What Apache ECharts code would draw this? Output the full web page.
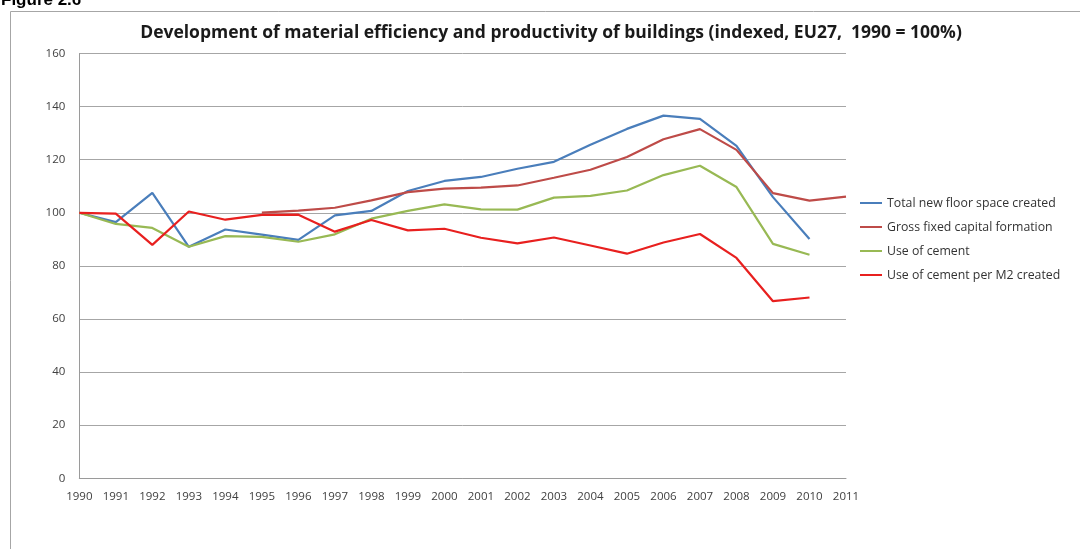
<!DOCTYPE html>
<html>
<head>
<meta charset="utf-8">
<script src="https://cdn.jsdelivr.net/npm/echarts@6/dist/echarts.min.js"></script>
<style>
  html, body { margin: 0; padding: 0; background: #fff; }
  #chart { width: 1080px; height: 549px; }
</style>
</head>
<body>
<div id="chart"></div>
<script>
// 年份 (x 轴)
const years = ['1990', '1991', '1992', '1993', '1994', '1995', '1996', '1997', '1998', '1999', '2000',
  '2001', '2002', '2003', '2004', '2005', '2006', '2007', '2008', '2009', '2010', '2011'];

// 各系列数值 (1990 = 100)
const floorSpace = [100, 96.5, 107.5, 87.2, 93.7, 91.8, 89.8, 99.0, 100.7, 108.2, 112.0,
  113.5, 116.6, 119.2, 125.6, 131.6, 136.6, 135.4, 125.2, 105.9, 90.1, null];
const capitalFormation = [null, null, null, null, null, 100.1, 100.8, 101.9, 104.7, 107.8, 109.1,
  109.5, 110.3, 113.2, 116.2, 121.0, 127.7, 131.5, 123.7, 107.4, 104.6, 106.1];
const cementUse = [100, 95.8, 94.3, 87.2, 91.2, 90.9, 89.1, 91.9, 97.8, 100.7, 103.2,
  101.3, 101.2, 105.7, 106.4, 108.4, 114.2, 117.7, 109.7, 88.3, 84.2, null];
const cementPerM2 = [100, 99.7, 87.9, 100.5, 97.4, 99.2, 99.3, 92.9, 97.3, 93.4, 94.0,
  90.6, 88.5, 90.7, 87.7, 84.6, 88.8, 92.0, 83.0, 66.7, 68.1, null];

const seriesNames = ['Total new floor space created', 'Gross fixed capital formation',
  'Use of cement', 'Use of cement per M2 created'];
const seriesColors = ['#4a7ebb', '#be4b48', '#98b954', '#e8201f'];
const seriesData = [floorSpace, capitalFormation, cementUse, cementPerM2];

const chart = echarts.init(document.getElementById('chart'));

const labelFont = '"Open Sans", sans-serif';

chart.setOption({
  animation: false,
  backgroundColor: '#fff',
  title: {
    text: 'Development of material efficiency and productivity of buildings (indexed, EU27,  1990 = 100%)',
    left: 551,
    top: 24,
    padding: 0,
    textAlign: 'center',
    textStyle: { fontFamily: labelFont, fontWeight: 'bold', fontSize: 17.5, color: '#1a1a1a' }
  },
  graphic: [
    {
      type: 'rect',
      shape: { x: 10.5, y: 11.5, width: 1100, height: 600 },
      style: { fill: 'none', stroke: '#a6a6a6', lineWidth: 1 },
      silent: true
    },
    {
      type: 'text',
      left: 1,
      top: -8,
      style: { text: 'Figure 2.6', font: 'bold 17px "Liberation Sans", Arial, sans-serif', fill: '#000' },
      silent: true
    }
  ],
  legend: {
    orient: 'vertical',
    left: 860,
    top: 196,
    padding: 0,
    itemWidth: 22,
    itemHeight: 2,
    itemGap: 10,
    icon: 'rect',
    data: seriesNames,
    textStyle: { fontFamily: labelFont, fontSize: 12.3, color: '#333', lineHeight: 14 }
  },
  grid: { left: 79.3, top: 53.5, width: 766.7, height: 424.8, containLabel: false },
  xAxis: {
    type: 'category',
    data: years,
    boundaryGap: false,
    axisLine: { lineStyle: { color: '#9a9a9a', width: 1 } },
    axisTick: { show: false },
    axisLabel: { margin: 12, fontFamily: labelFont, fontSize: 11.5, color: '#404040', interval: 0 },
    splitLine: { show: false }
  },
  yAxis: {
    type: 'value',
    min: 0,
    max: 160,
    interval: 20,
    axisLine: { show: true, lineStyle: { color: '#9a9a9a', width: 1 } },
    axisTick: { show: false },
    axisLabel: { margin: 14, fontFamily: labelFont, fontSize: 11.5, color: '#404040' },
    splitLine: { lineStyle: { color: '#a6a6a6', width: 1 } }
  },
  series: seriesData.map((data, i) => ({
    name: seriesNames[i],
    type: 'line',
    data: data,
    symbol: 'none',
    color: seriesColors[i],
    lineStyle: { width: 2.2, color: seriesColors[i] },
    z: i + 2
  }))
});
</script>
</body>
</html>
